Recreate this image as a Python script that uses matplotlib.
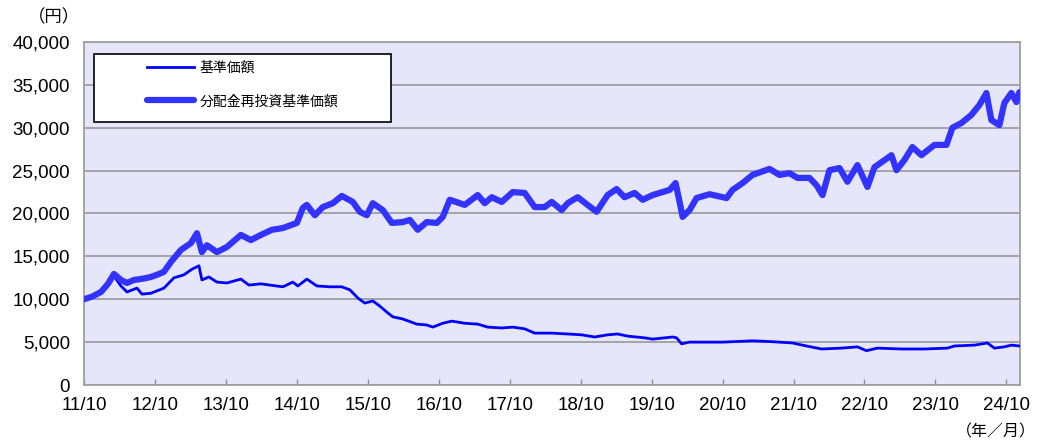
import matplotlib
matplotlib.use("Agg")
import matplotlib.pyplot as plt
from matplotlib.patches import Rectangle

plt.rcParams["font.family"] = ["Liberation Sans", "Noto Sans CJK JP", "DejaVu Sans"]
_CJK = ["Noto Sans CJK JP", "DejaVu Sans"]

# months counted from 2011/10
nav_months = [0, 1.35, 2.87, 4.06, 5.07, 6.25, 7.27, 8.96, 9.8, 11.32, 13.52, 15.21, 16.9,
              18.25, 19.44, 19.94, 21.13, 22.48, 24.17, 26.53, 27.89, 29.91, 31.44, 33.63,
              35.32, 36.17, 37.69, 39.38, 41.58, 43.6, 44.96, 46.31, 47.49, 48.84, 50.03,
              51.21, 52.22, 53.91, 56.28, 57.97, 58.99, 60.67, 62.2, 64.39, 66.59, 68.28,
              70.65, 72.51, 74.53, 76.22, 79.1, 81.8, 84.17, 86.36, 88.56, 90.25, 91.94,
              94.82, 96.17, 99.55, 100.22, 101.07, 102.42, 108.0, 113.07, 116.45, 119.83,
              122.19, 124.73, 128.11, 130.81, 132.33, 134.19, 138.25, 142.14, 146.02,
              147.21, 150.59, 152.79, 153.97, 155.66, 156.84, 158.19]
nav = [10000, 10300, 10850, 11800, 12700, 11550, 10850, 11300, 10600, 10700, 11300, 12500,
       12850, 13500, 13900, 12250, 12600, 12000, 11900, 12350, 11650, 11800, 11650, 11450,
       12000, 11550, 12350, 11550, 11450, 11450, 11100, 10150, 9550, 9800, 9200, 8500,
       7950, 7700, 7100, 7000, 6750, 7200, 7450, 7200, 7100, 6750, 6650, 6750, 6550, 6050,
       6050, 5950, 5850, 5600, 5850, 5950, 5700, 5500, 5350, 5600, 5500, 4800, 5000, 5000,
       5150, 5050, 4900, 4550, 4200, 4300, 4450, 4000, 4300, 4200, 4200, 4300, 4550, 4650,
       4900, 4300, 4450, 4650, 4550]

reinv_months = [0, 1.35, 2.87, 4.06, 5.07, 6.25, 7.27, 8.45, 9.97, 11.32, 12.51, 13.52,
                14.7, 16.39, 18.08, 19.1, 19.94, 20.79, 22.48, 24.17, 26.53, 28.22, 29.91,
                31.77, 33.63, 36.0, 37.01, 37.69, 39.04, 40.39, 42.08, 43.6, 45.46, 46.65,
                47.83, 48.84, 50.53, 52.05, 53.91, 55.1, 56.45, 57.97, 59.66, 60.67, 61.86,
                63.55, 64.39, 66.59, 67.77, 68.96, 70.65, 72.51, 74.53, 76.22, 77.91, 79.1,
                80.79, 81.8, 83.49, 85.18, 86.7, 88.56, 90.08, 91.43, 93.12, 94.48, 96.17,
                99.04, 100.05, 100.73, 101.24, 102.42, 103.6, 105.8, 108.67, 109.69,
                111.38, 113.07, 115.94, 117.63, 119.32, 120.67, 122.7, 123.88, 124.9,
                126.08, 127.77, 129.12, 130.81, 132.5, 133.69, 136.56, 137.41, 138.76,
                140.11, 141.63, 143.83, 145.86, 146.87, 148.39, 150.08, 151.43, 152.62,
                153.46, 154.81, 155.66, 156.84, 157.69, 158.19]
reinv = [10000, 10300, 10850, 11800, 12950, 12250, 11900, 12250, 12400, 12600, 12900, 13200,
         14350, 15750, 16550, 17700, 15500, 16300, 15500, 16100, 17500, 16900, 17500, 18100,
         18300, 18900, 20650, 21000, 19800, 20750, 21200, 22050, 21350, 20200, 19800, 21200,
         20400, 18900, 19000, 19250, 18100, 19000, 18900, 19600, 21600, 21200, 21000, 22150,
         21200, 21900, 21350, 22500, 22400, 20750, 20750, 21350, 20400, 21200, 21900, 21000,
         20200, 22150, 22850, 21900, 22400, 21600, 22150, 22750, 23550, 21350, 19600, 20400,
         21800, 22250, 21800, 22750, 23550, 24500, 25200, 24500, 24700, 24150, 24150, 23300,
         22150, 25050, 25300, 23700, 25650, 23100, 25400, 26800, 25050, 26250, 27750, 26800,
         28000, 28000, 30000, 30550, 31500, 32650, 34050, 30900, 30300, 32900, 34050, 33000,
         34150]

tick_labels = ["11/10", "12/10", "13/10", "14/10", "15/10", "16/10", "17/10",
               "18/10", "19/10", "20/10", "21/10", "22/10", "23/10", "24/10"]
y_ticks = list(range(0, 40001, 5000))

fig = plt.figure(figsize=(10.37, 4.42), dpi=100)
ax = fig.add_axes([84 / 1037, 57 / 442, 936 / 1037, 343 / 442])
ax.set_facecolor("#E6E6FA")

ax.plot(nav_months, nav, color="#0000FF", lw=2.0, label="基準価額", zorder=3)
ax.plot(reinv_months, reinv, color="#3333FF", lw=4.5, label="分配金再投資基準価額",
        solid_capstyle="round", solid_joinstyle="round", zorder=4)

ax.set_xlim(0, 158.3)
ax.set_ylim(0, 40000)
ax.set_xticks([12 * i for i in range(len(tick_labels))])
ax.set_xticklabels(tick_labels)
ax.set_yticks(y_ticks)
ax.set_yticklabels([f"{v:,}" for v in y_ticks])
ax.tick_params(axis="x", direction="in", length=4, width=1, color="#909090",
               labelsize=13.5, pad=9)
ax.tick_params(axis="y", length=0, labelsize=13.5, pad=10)
ax.yaxis.grid(True, color="#999999", lw=1.2)
ax.set_axisbelow(True)
for s in ax.spines.values():
    s.set_color("#A0A0A0")
    s.set_linewidth(1.3)

# legend: white box with black border
ax.add_patch(Rectangle((0.0107, 0.767), 0.3173, 0.198, transform=ax.transAxes,
                       facecolor="white", edgecolor="black", lw=1.2, zorder=5))
leg = ax.legend(loc="upper left", bbox_to_anchor=(0.0673, 0.945), frameon=False,
                borderpad=0, borderaxespad=0, handlelength=3.4, handletextpad=0.4,
                labelspacing=1.4, prop={"family": _CJK, "size": 10})
leg.set_zorder(6)

fig.text(28 / 1037, 1 - 17 / 442, "（円）", family=_CJK, fontsize=12.5, va="center")
fig.text(1036 / 1037, 1 - 432 / 442, "（年／月）", family=_CJK, fontsize=11.5,
         va="center", ha="right")

fig.savefig("out.png", dpi=100, facecolor="white")
